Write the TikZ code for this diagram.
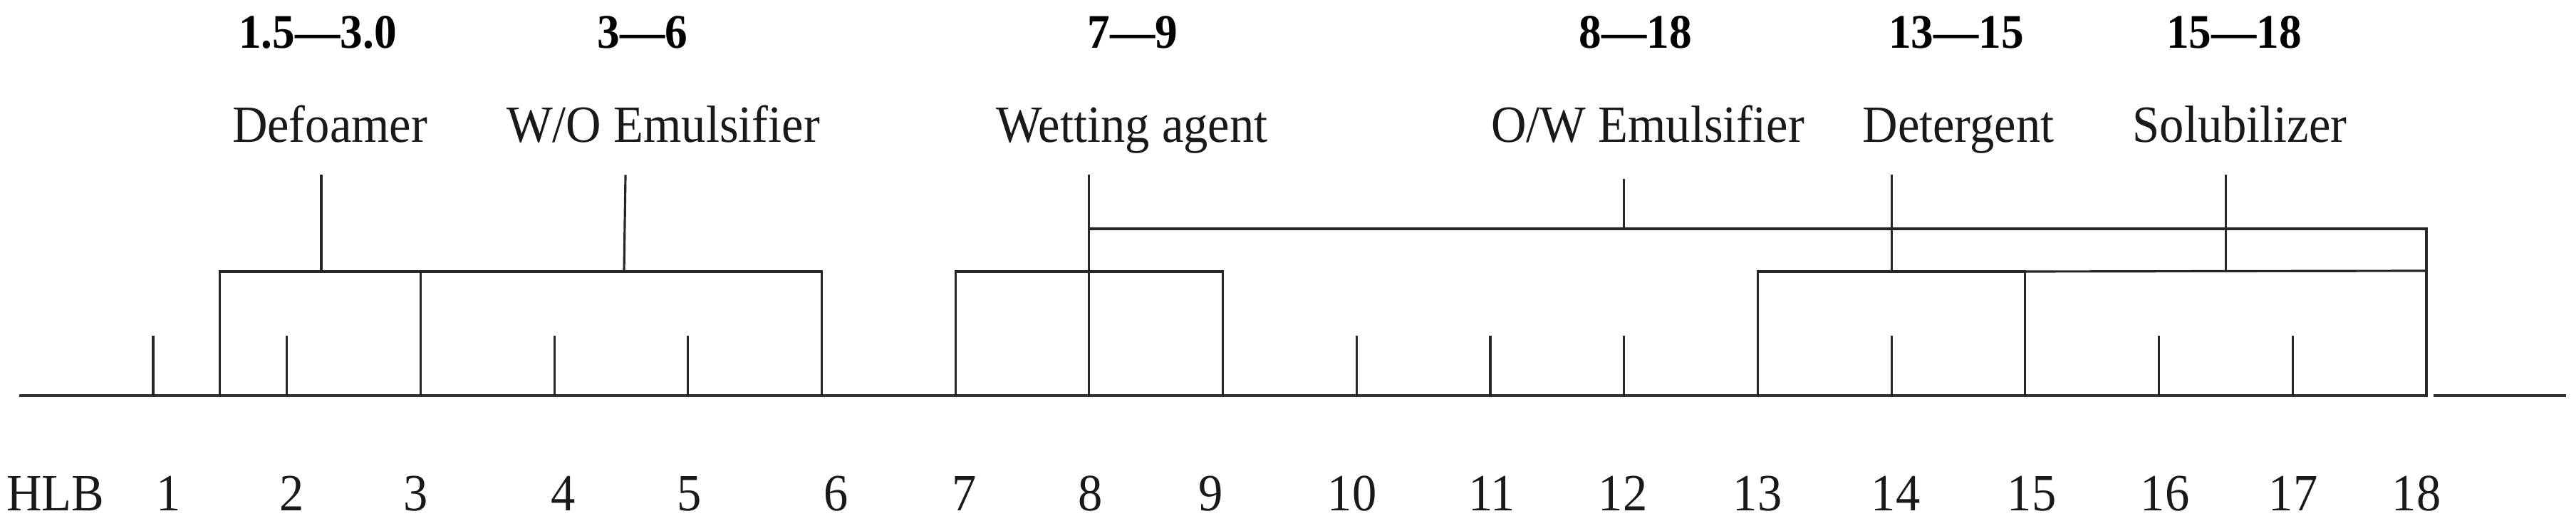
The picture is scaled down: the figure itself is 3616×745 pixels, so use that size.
\documentclass[tikz,border=0pt]{standalone}
\usepackage{fontspec}
\setmainfont{Liberation Serif}
\newcommand\tallt[1]{\scalebox{1}[1.07]{#1}}
\begin{document}
\begin{tikzpicture}[x=0.1mm,y=-0.1mm,
  ln/.style={line width=0.9pt, draw=black!85, line cap=rect},
  axisline/.style={line width=1.1pt, draw=black!80},
  rng/.style={font=\fontsize{18}{20}\selectfont\bfseries, anchor=base, inner sep=0pt, text=black},
  lbl/.style={font=\fontsize{19.5}{22}\selectfont, anchor=base, inner sep=0pt, text=black!90},
  num/.style={font=\fontsize{19.5}{22}\selectfont, anchor=base, inner sep=0pt, text=black!90}]
\useasboundingbox (0,0) rectangle (3616,745);
\def\X#1{215+(#1-1)*187.7}
% base and tick coordinates
\foreach \k in {1,...,18}{
  \coordinate (b\k) at ({\X{\k}},555);
  \coordinate (t\k) at ({\X{\k}},473);
}
\coordinate (a0) at (27,555);
\coordinate (a1) at (3416,555);
\coordinate (aend) at (3602,555);
% bracket corners
\coordinate (p15) at ({\X{1.5}},555);
\coordinate (q15) at ({\X{1.5}},381);
\coordinate (q3) at ({\X{3}},381);
\coordinate (q6) at ({\X{6}},381);
\coordinate (q7) at ({\X{7}},381);
\coordinate (q9) at ({\X{9}},381);
\coordinate (q13) at ({\X{13}},381);
\coordinate (q15b) at ({\X{15}},381);
\coordinate (q18) at ({\X{18}},380);
\coordinate (r8) at ({\X{8}},321);
\coordinate (r18) at ({\X{18}},321);
% stems
\coordinate (m1) at (451,381);   \coordinate (s1) at (451,247);
\coordinate (m2) at (876,381);   \coordinate (s2) at (878,247);
\coordinate (s8) at ({\X{8}},247);
\coordinate (m12) at ({\X{12}},321); \coordinate (s12) at ({\X{12}},253);
\coordinate (m14) at ({\X{14}},381); \coordinate (s14) at ({\X{14}},247);
\coordinate (m16) at ({\X{16.5}},380); \coordinate (s16) at ({\X{16.5}},247);

% axis
\draw[axisline] (a0) -- (b18);
\draw[axisline] (a1) -- (aend);
% short ticks
\foreach \k in {1,2,4,5,10,11,12,14,16,17}{\draw[ln] (b\k) -- (t\k);}
% brackets
\draw[ln] (p15) -- (q15) -- (q3) -- (b3);
\draw[ln] (q3) -- (q6) -- (b6);
\draw[ln] (b7) -- (q7) -- (q9) -- (b9);
\draw[ln] (b13) -- (q13) -- (q15b) -- (b15);
\draw[ln] (q15b) -- (q18);
\draw[ln] (r8) -- (r18) -- (b18);
% stems
\draw[ln] (m1) -- (s1);
\draw[ln] (m2) -- (s2);
\draw[ln] (b8) -- (s8);
\draw[ln] (m12) -- (s12);
\draw[ln] (m14) -- (s14);
\draw[ln] (m16) -- (s16);

% range labels
\node[rng] (r1) at (446,68) {\tallt{1.5—3.0}};
\node[rng] (r2) at (902,68) {\tallt{3—6}};
\node[rng] (r3) at (1590,68) {\tallt{7—9}};
\node[rng] (r4) at (2296,68) {\tallt{8—18}};
\node[rng] (r5) at (2746,68) {\tallt{13—15}};
\node[rng] (r6) at (3136,68) {\tallt{15—18}};
% names
\node[lbl] (n1) at (463,200) {\tallt{Defoamer}};
\node[lbl] (n2) at (931,200) {\tallt{W/O Emulsifier}};
\node[lbl] (n3) at (1589,200) {\tallt{Wetting agent}};
\node[lbl] (n4) at (2313,200) {\tallt{O/W Emulsifier}};
\node[lbl] (n5) at (2749,200) {\tallt{Detergent}};
\node[lbl] (n6) at (3144,200) {\tallt{Solubilizer}};
% HLB scale
\node[num] (hlb) at (78,717) {\tallt{HLB}};
\foreach \k/\xx in {1/237,2/410,3/584,4/791,5/968,6/1174,7/1354,8/1531,9/1700,10/1898,11/2094,12/2278,13/2467,14/2661,15/2852,16/3039,17/3219,18/3392}{
  \node[num] (h\k) at (\xx,717) {\tallt{\k}};
}
\end{tikzpicture}
\end{document}
